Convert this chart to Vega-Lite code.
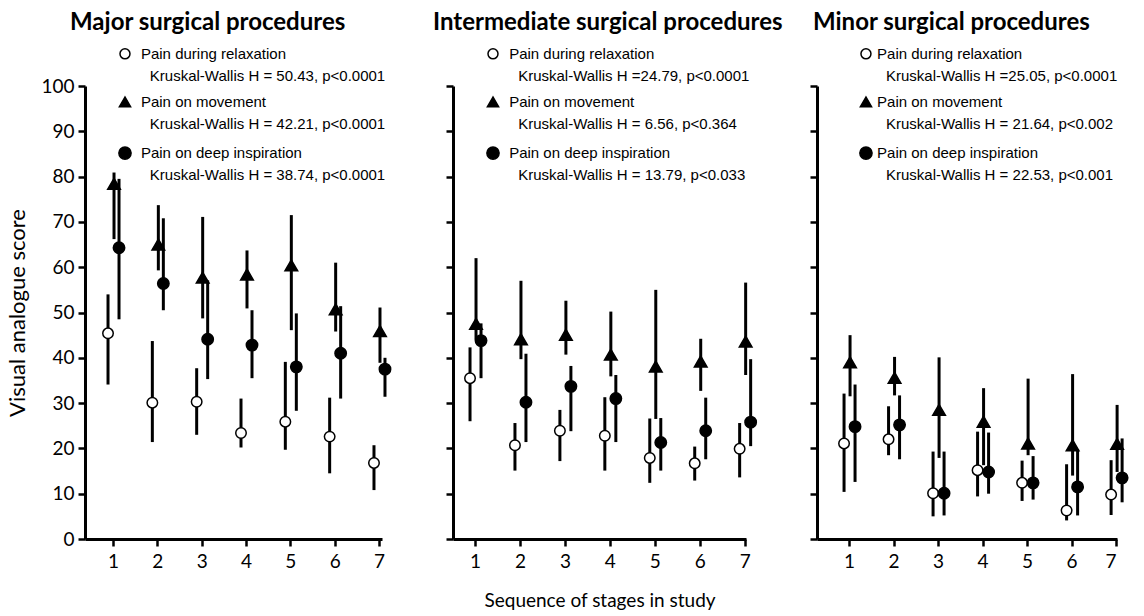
{
  "$schema": "https://vega.github.io/schema/vega-lite/v6.json",
  "padding": {"left": 6, "top": 10, "right": 5, "bottom": 5},
  "background": "white",
  "bounds": "flush",
  "spacing": 71,
  "config": {
    "view": {"stroke": null},
    "axis": {
      "grid": false, "domainColor": "black", "domainWidth": 3, "tickColor": "black", "tickWidth": 2.5, "tickSize": 7,
      "labelFont": "Lato", "labelFontSize": 19, "labelColor": "black", "titleFont": "Lato", "titleFontSize": 19,
      "titleFontWeight": "normal", "titleColor": "black"
    },
    "title": {"font": "Lato", "fontSize": 24, "fontWeight": "bold", "color": "black", "anchor": "start", "frame": "group"},
    "rule": {"strokeWidth": 3, "color": "black"},
    "point": {"filled": true, "opacity": 1, "stroke": "black", "strokeWidth": 1.5},
    "text": {"align": "left", "baseline": "middle", "font": "Liberation Sans", "fontSize": 15, "color": "black"}
  },
  "datasets": {
    "pts": [
      {"p": "Major", "s": "relax", "st": 1, "m": 45.4, "lo": 34.1, "hi": 54.0},
      {"p": "Major", "s": "relax", "st": 2, "m": 30.1, "lo": 21.4, "hi": 43.7},
      {"p": "Major", "s": "relax", "st": 3, "m": 30.3, "lo": 23.0, "hi": 37.7},
      {"p": "Major", "s": "relax", "st": 4, "m": 23.4, "lo": 20.2, "hi": 31.0},
      {"p": "Major", "s": "relax", "st": 5, "m": 25.9, "lo": 19.7, "hi": 39.1},
      {"p": "Major", "s": "relax", "st": 6, "m": 22.6, "lo": 14.5, "hi": 31.2},
      {"p": "Major", "s": "relax", "st": 7, "m": 16.8, "lo": 10.8, "hi": 20.7},
      {"p": "Major", "s": "move", "st": 1, "m": 78.4, "lo": 66.2, "hi": 80.9},
      {"p": "Major", "s": "move", "st": 2, "m": 65.0, "lo": 59.3, "hi": 73.7},
      {"p": "Major", "s": "move", "st": 3, "m": 57.7, "lo": 48.7, "hi": 71.1},
      {"p": "Major", "s": "move", "st": 4, "m": 58.4, "lo": 50.9, "hi": 63.7},
      {"p": "Major", "s": "move", "st": 5, "m": 60.4, "lo": 46.1, "hi": 71.5},
      {"p": "Major", "s": "move", "st": 6, "m": 50.7, "lo": 45.8, "hi": 61.0},
      {"p": "Major", "s": "move", "st": 7, "m": 45.9, "lo": 38.9, "hi": 51.1},
      {"p": "Major", "s": "deep", "st": 1, "m": 64.3, "lo": 48.5, "hi": 79.5},
      {"p": "Major", "s": "deep", "st": 2, "m": 56.4, "lo": 50.5, "hi": 70.8},
      {"p": "Major", "s": "deep", "st": 3, "m": 44.1, "lo": 35.3, "hi": 57.1},
      {"p": "Major", "s": "deep", "st": 4, "m": 42.8, "lo": 35.5, "hi": 50.5},
      {"p": "Major", "s": "deep", "st": 5, "m": 38.0, "lo": 28.3, "hi": 49.8},
      {"p": "Major", "s": "deep", "st": 6, "m": 41.0, "lo": 31.0, "hi": 51.4},
      {"p": "Major", "s": "deep", "st": 7, "m": 37.5, "lo": 31.4, "hi": 40.0},
      {"p": "Inter", "s": "relax", "st": 1, "m": 35.5, "lo": 26.0, "hi": 42.3},
      {"p": "Inter", "s": "relax", "st": 2, "m": 20.7, "lo": 15.1, "hi": 25.6},
      {"p": "Inter", "s": "relax", "st": 3, "m": 23.9, "lo": 17.2, "hi": 28.5},
      {"p": "Inter", "s": "relax", "st": 4, "m": 22.8, "lo": 15.1, "hi": 31.3},
      {"p": "Inter", "s": "relax", "st": 5, "m": 17.9, "lo": 12.4, "hi": 26.6},
      {"p": "Inter", "s": "relax", "st": 6, "m": 16.7, "lo": 12.9, "hi": 20.4},
      {"p": "Inter", "s": "relax", "st": 7, "m": 19.9, "lo": 13.6, "hi": 25.6},
      {"p": "Inter", "s": "move", "st": 1, "m": 47.5, "lo": 44.0, "hi": 62.0},
      {"p": "Inter", "s": "move", "st": 2, "m": 44.1, "lo": 39.7, "hi": 57.0},
      {"p": "Inter", "s": "move", "st": 3, "m": 45.1, "lo": 40.7, "hi": 52.6},
      {"p": "Inter", "s": "move", "st": 4, "m": 40.7, "lo": 35.9, "hi": 50.2},
      {"p": "Inter", "s": "move", "st": 5, "m": 38.1, "lo": 26.5, "hi": 55.0},
      {"p": "Inter", "s": "move", "st": 6, "m": 39.2, "lo": 32.7, "hi": 44.2},
      {"p": "Inter", "s": "move", "st": 7, "m": 43.6, "lo": 36.2, "hi": 56.6},
      {"p": "Inter", "s": "deep", "st": 1, "m": 43.8, "lo": 35.5, "hi": 47.6},
      {"p": "Inter", "s": "deep", "st": 2, "m": 30.2, "lo": 21.4, "hi": 40.9},
      {"p": "Inter", "s": "deep", "st": 3, "m": 33.7, "lo": 23.8, "hi": 38.2},
      {"p": "Inter", "s": "deep", "st": 4, "m": 31.0, "lo": 21.4, "hi": 36.2},
      {"p": "Inter", "s": "deep", "st": 5, "m": 21.3, "lo": 15.1, "hi": 26.7},
      {"p": "Inter", "s": "deep", "st": 6, "m": 23.9, "lo": 17.6, "hi": 31.2},
      {"p": "Inter", "s": "deep", "st": 7, "m": 25.8, "lo": 20.5, "hi": 39.7},
      {"p": "Minor", "s": "relax", "st": 1, "m": 21.1, "lo": 10.4, "hi": 32.1},
      {"p": "Minor", "s": "relax", "st": 2, "m": 22.0, "lo": 18.5, "hi": 29.3},
      {"p": "Minor", "s": "relax", "st": 3, "m": 10.1, "lo": 5.0, "hi": 19.3},
      {"p": "Minor", "s": "relax", "st": 4, "m": 15.2, "lo": 9.4, "hi": 23.7},
      {"p": "Minor", "s": "relax", "st": 5, "m": 12.4, "lo": 8.4, "hi": 17.3},
      {"p": "Minor", "s": "relax", "st": 6, "m": 6.3, "lo": 4.1, "hi": 16.5},
      {"p": "Minor", "s": "relax", "st": 7, "m": 9.8, "lo": 5.3, "hi": 17.4},
      {"p": "Minor", "s": "move", "st": 1, "m": 39.0, "lo": 31.5, "hi": 45.0},
      {"p": "Minor", "s": "move", "st": 2, "m": 35.6, "lo": 31.7, "hi": 40.2},
      {"p": "Minor", "s": "move", "st": 3, "m": 28.5, "lo": 17.9, "hi": 40.1},
      {"p": "Minor", "s": "move", "st": 4, "m": 25.9, "lo": 16.3, "hi": 33.3},
      {"p": "Minor", "s": "move", "st": 5, "m": 21.1, "lo": 18.5, "hi": 35.4},
      {"p": "Minor", "s": "move", "st": 6, "m": 20.7, "lo": 14.0, "hi": 36.4},
      {"p": "Minor", "s": "move", "st": 7, "m": 21.0, "lo": 14.8, "hi": 29.6},
      {"p": "Minor", "s": "deep", "st": 1, "m": 24.8, "lo": 12.6, "hi": 34.1},
      {"p": "Minor", "s": "deep", "st": 2, "m": 25.2, "lo": 17.6, "hi": 31.7},
      {"p": "Minor", "s": "deep", "st": 3, "m": 10.1, "lo": 5.2, "hi": 19.3},
      {"p": "Minor", "s": "deep", "st": 4, "m": 14.8, "lo": 10.0, "hi": 23.5},
      {"p": "Minor", "s": "deep", "st": 5, "m": 12.4, "lo": 8.7, "hi": 18.3},
      {"p": "Minor", "s": "deep", "st": 6, "m": 11.5, "lo": 5.2, "hi": 19.8},
      {"p": "Minor", "s": "deep", "st": 7, "m": 13.5, "lo": 8.1, "hi": 22.2}
    ],
    "leg": [
      {"p": "Major", "s": "relax", "st": 1.27, "m": 107.1},
      {"p": "Major", "s": "move", "st": 1.27, "m": 96.5},
      {"p": "Major", "s": "deep", "st": 1.27, "m": 85.2},
      {"p": "Inter", "s": "relax", "st": 1.4, "m": 107.1},
      {"p": "Inter", "s": "move", "st": 1.4, "m": 96.5},
      {"p": "Inter", "s": "deep", "st": 1.4, "m": 85.2},
      {"p": "Minor", "s": "relax", "st": 1.38, "m": 107.1},
      {"p": "Minor", "s": "move", "st": 1.38, "m": 96.5},
      {"p": "Minor", "s": "deep", "st": 1.38, "m": 85.2}
    ],
    "lt": [
      {"p": "Major", "st": 1.63, "m": 107.1, "t": "Pain during relaxation"},
      {"p": "Major", "st": 1.83, "m": 102.2, "t": "Kruskal-Wallis H = 50.43, p<0.0001"},
      {"p": "Major", "st": 1.63, "m": 96.5, "t": "Pain on movement"},
      {"p": "Major", "st": 1.83, "m": 91.6, "t": "Kruskal-Wallis H = 42.21, p<0.0001"},
      {"p": "Major", "st": 1.63, "m": 85.2, "t": "Pain on deep inspiration"},
      {"p": "Major", "st": 1.83, "m": 80.4, "t": "Kruskal-Wallis H = 38.74, p<0.0001"},
      {"p": "Inter", "st": 1.76, "m": 107.1, "t": "Pain during relaxation"},
      {"p": "Inter", "st": 1.96, "m": 102.2, "t": "Kruskal-Wallis H =24.79, p<0.0001"},
      {"p": "Inter", "st": 1.76, "m": 96.5, "t": "Pain on movement"},
      {"p": "Inter", "st": 1.96, "m": 91.6, "t": "Kruskal-Wallis H = 6.56, p<0.364"},
      {"p": "Inter", "st": 1.76, "m": 85.2, "t": "Pain on deep inspiration"},
      {"p": "Inter", "st": 1.96, "m": 80.4, "t": "Kruskal-Wallis H = 13.79, p<0.033"},
      {"p": "Minor", "st": 1.63, "m": 107.1, "t": "Pain during relaxation"},
      {"p": "Minor", "st": 1.83, "m": 102.2, "t": "Kruskal-Wallis H =25.05, p<0.0001"},
      {"p": "Minor", "st": 1.63, "m": 96.5, "t": "Pain on movement"},
      {"p": "Minor", "st": 1.83, "m": 91.6, "t": "Kruskal-Wallis H = 21.64, p<0.002"},
      {"p": "Minor", "st": 1.63, "m": 85.2, "t": "Pain on deep inspiration"},
      {"p": "Minor", "st": 1.83, "m": 80.4, "t": "Kruskal-Wallis H = 22.53, p<0.001"}
    ]
  },
  "hconcat": [
    {
      "width": 297, "height": 453,
      "title": {"text": "Major surgical procedures", "dx": -15, "offset": 11},
      "encoding": {
        "x": {"field": "st", "type": "quantitative", "scale": {"domain": [0.368, 7.068], "nice": false, "zero": false},
              "axis": {"values": [1,2,3,4,5,6,7], "title": null, "labelPadding": 6}},
        "y": {"field": "m", "type": "quantitative", "scale": {"domain": [0, 100], "nice": false},
              "axis": {"values": [0,10,20,30,40,50,60,70,80,90,100], "title": "Visual analogue score", "labelPadding": 4, "titlePadding": 11, "titleFontSize": 22}}
      },
      "layer": [
        {"data": {"name": "pts"}, "transform": [{"filter": "datum.p === 'Major' && datum.s === 'relax'"}],
         "mark": {"type": "rule", "xOffset": -5},
         "encoding": {"y": {"field": "lo", "type": "quantitative", "axis": {"values": [0,10,20,30,40,50,60,70,80,90,100], "title": "Visual analogue score", "labelPadding": 4, "titlePadding": 11, "titleFontSize": 22}}, "y2": {"field": "hi"}}},
        {"data": {"name": "pts"}, "transform": [{"filter": "datum.p === 'Major' && datum.s === 'move'"}],
         "mark": {"type": "rule", "xOffset": 1},
         "encoding": {"y": {"field": "lo", "type": "quantitative", "axis": {"values": [0,10,20,30,40,50,60,70,80,90,100], "title": "Visual analogue score", "labelPadding": 4, "titlePadding": 11, "titleFontSize": 22}}, "y2": {"field": "hi"}}},
        {"data": {"name": "pts"}, "transform": [{"filter": "datum.p === 'Major' && datum.s === 'deep'"}],
         "mark": {"type": "rule", "xOffset": 6},
         "encoding": {"y": {"field": "lo", "type": "quantitative", "axis": {"values": [0,10,20,30,40,50,60,70,80,90,100], "title": "Visual analogue score", "labelPadding": 4, "titlePadding": 11, "titleFontSize": 22}}, "y2": {"field": "hi"}}},
        {"data": {"name": "pts"}, "transform": [{"filter": "datum.p === 'Major' && datum.s === 'relax'"}],
         "mark": {"type": "point", "shape": "circle", "fill": "white", "size": 110, "xOffset": -5}},
        {"data": {"name": "pts"}, "transform": [{"filter": "datum.p === 'Major' && datum.s === 'move'"}],
         "mark": {"type": "point", "shape": "triangle-up", "fill": "black", "size": 160, "xOffset": 1}},
        {"data": {"name": "pts"}, "transform": [{"filter": "datum.p === 'Major' && datum.s === 'deep'"}],
         "mark": {"type": "point", "shape": "circle", "fill": "black", "size": 130, "xOffset": 6}},
        {"data": {"name": "leg"}, "transform": [{"filter": "datum.p === 'Major'"}],
         "mark": {"type": "point"},
         "encoding": {
           "shape": {"field": "s", "type": "nominal", "scale": {"domain": ["relax","move","deep"], "range": ["circle","triangle-up","circle"]}, "legend": null},
           "fill": {"field": "s", "type": "nominal", "scale": {"domain": ["relax","move","deep"], "range": ["white","black","black"]}, "legend": null},
           "size": {"field": "s", "type": "ordinal", "scale": {"domain": ["relax","move","deep"], "range": [100, 150, 120]}, "legend": null}
         }},
        {"data": {"name": "lt"}, "transform": [{"filter": "datum.p === 'Major'"}],
         "mark": {"type": "text"},
         "encoding": {"text": {"field": "t"}}}
      ]
    },
    {
      "width": 293, "height": 453,
      "title": {"text": "Intermediate surgical procedures", "dx": -20, "offset": 11},
      "encoding": {
        "x": {"field": "st", "type": "quantitative", "scale": {"domain": [0.51, 7.03], "nice": false, "zero": false},
              "axis": {"values": [1,2,3,4,5,6,7], "title": "Sequence of stages in study", "labelPadding": 6, "titlePadding": 20}},
        "y": {"field": "m", "type": "quantitative", "scale": {"domain": [0, 100], "nice": false},
              "axis": {"values": [0,10,20,30,40,50,60,70,80,90,100], "title": null, "labels": false}}
      },
      "layer": [
        {"data": {"name": "pts"}, "transform": [{"filter": "datum.p === 'Inter' && datum.s === 'relax'"}],
         "mark": {"type": "rule", "xOffset": -5},
         "encoding": {"y": {"field": "lo", "type": "quantitative", "axis": {"values": [0,10,20,30,40,50,60,70,80,90,100], "title": null, "labels": false}}, "y2": {"field": "hi"}}},
        {"data": {"name": "pts"}, "transform": [{"filter": "datum.p === 'Inter' && datum.s === 'move'"}],
         "mark": {"type": "rule", "xOffset": 1},
         "encoding": {"y": {"field": "lo", "type": "quantitative", "axis": {"values": [0,10,20,30,40,50,60,70,80,90,100], "title": null, "labels": false}}, "y2": {"field": "hi"}}},
        {"data": {"name": "pts"}, "transform": [{"filter": "datum.p === 'Inter' && datum.s === 'deep'"}],
         "mark": {"type": "rule", "xOffset": 6},
         "encoding": {"y": {"field": "lo", "type": "quantitative", "axis": {"values": [0,10,20,30,40,50,60,70,80,90,100], "title": null, "labels": false}}, "y2": {"field": "hi"}}},
        {"data": {"name": "pts"}, "transform": [{"filter": "datum.p === 'Inter' && datum.s === 'relax'"}],
         "mark": {"type": "point", "shape": "circle", "fill": "white", "size": 110, "xOffset": -5}},
        {"data": {"name": "pts"}, "transform": [{"filter": "datum.p === 'Inter' && datum.s === 'move'"}],
         "mark": {"type": "point", "shape": "triangle-up", "fill": "black", "size": 160, "xOffset": 1}},
        {"data": {"name": "pts"}, "transform": [{"filter": "datum.p === 'Inter' && datum.s === 'deep'"}],
         "mark": {"type": "point", "shape": "circle", "fill": "black", "size": 130, "xOffset": 6}},
        {"data": {"name": "leg"}, "transform": [{"filter": "datum.p === 'Inter'"}],
         "mark": {"type": "point"},
         "encoding": {
           "shape": {"field": "s", "type": "nominal", "scale": {"domain": ["relax","move","deep"], "range": ["circle","triangle-up","circle"]}, "legend": null},
           "fill": {"field": "s", "type": "nominal", "scale": {"domain": ["relax","move","deep"], "range": ["white","black","black"]}, "legend": null},
           "size": {"field": "s", "type": "ordinal", "scale": {"domain": ["relax","move","deep"], "range": [100, 150, 120]}, "legend": null}
         }},
        {"data": {"name": "lt"}, "transform": [{"filter": "datum.p === 'Inter'"}],
         "mark": {"type": "text"},
         "encoding": {"text": {"field": "t"}}}
      ]
    },
    {
      "width": 300, "height": 453,
      "title": {"text": "Minor surgical procedures", "dx": -4, "offset": 11},
      "encoding": {
        "x": {"field": "st", "type": "quantitative", "scale": {"domain": [0.28, 7.02], "nice": false, "zero": false},
              "axis": {"values": [1,2,3,4,5,6,7], "title": null, "labelPadding": 6}},
        "y": {"field": "m", "type": "quantitative", "scale": {"domain": [0, 100], "nice": false},
              "axis": {"values": [0,10,20,30,40,50,60,70,80,90,100], "title": null, "labels": false}}
      },
      "layer": [
        {"data": {"name": "pts"}, "transform": [{"filter": "datum.p === 'Minor' && datum.s === 'relax'"}],
         "mark": {"type": "rule", "xOffset": -5},
         "encoding": {"y": {"field": "lo", "type": "quantitative", "axis": {"values": [0,10,20,30,40,50,60,70,80,90,100], "title": null, "labels": false}}, "y2": {"field": "hi"}}},
        {"data": {"name": "pts"}, "transform": [{"filter": "datum.p === 'Minor' && datum.s === 'move'"}],
         "mark": {"type": "rule", "xOffset": 1},
         "encoding": {"y": {"field": "lo", "type": "quantitative", "axis": {"values": [0,10,20,30,40,50,60,70,80,90,100], "title": null, "labels": false}}, "y2": {"field": "hi"}}},
        {"data": {"name": "pts"}, "transform": [{"filter": "datum.p === 'Minor' && datum.s === 'deep'"}],
         "mark": {"type": "rule", "xOffset": 6},
         "encoding": {"y": {"field": "lo", "type": "quantitative", "axis": {"values": [0,10,20,30,40,50,60,70,80,90,100], "title": null, "labels": false}}, "y2": {"field": "hi"}}},
        {"data": {"name": "pts"}, "transform": [{"filter": "datum.p === 'Minor' && datum.s === 'relax'"}],
         "mark": {"type": "point", "shape": "circle", "fill": "white", "size": 110, "xOffset": -5}},
        {"data": {"name": "pts"}, "transform": [{"filter": "datum.p === 'Minor' && datum.s === 'move'"}],
         "mark": {"type": "point", "shape": "triangle-up", "fill": "black", "size": 160, "xOffset": 1}},
        {"data": {"name": "pts"}, "transform": [{"filter": "datum.p === 'Minor' && datum.s === 'deep'"}],
         "mark": {"type": "point", "shape": "circle", "fill": "black", "size": 130, "xOffset": 6}},
        {"data": {"name": "leg"}, "transform": [{"filter": "datum.p === 'Minor'"}],
         "mark": {"type": "point"},
         "encoding": {
           "shape": {"field": "s", "type": "nominal", "scale": {"domain": ["relax","move","deep"], "range": ["circle","triangle-up","circle"]}, "legend": null},
           "fill": {"field": "s", "type": "nominal", "scale": {"domain": ["relax","move","deep"], "range": ["white","black","black"]}, "legend": null},
           "size": {"field": "s", "type": "ordinal", "scale": {"domain": ["relax","move","deep"], "range": [100, 150, 120]}, "legend": null}
         }},
        {"data": {"name": "lt"}, "transform": [{"filter": "datum.p === 'Minor'"}],
         "mark": {"type": "text"},
         "encoding": {"text": {"field": "t"}}}
      ]
    }
  ]
}
